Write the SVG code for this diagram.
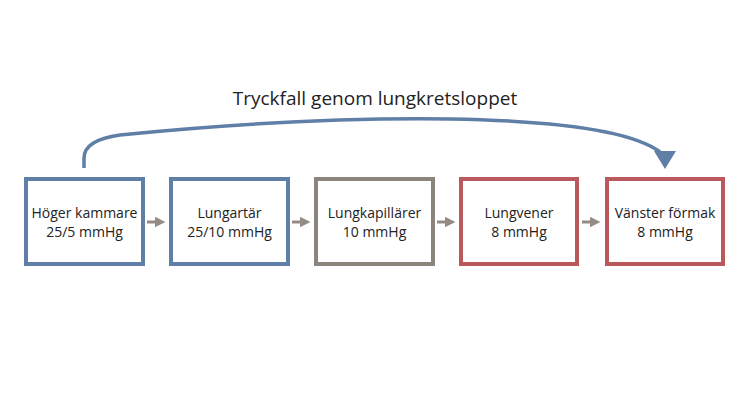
<svg xmlns="http://www.w3.org/2000/svg" width="750" height="409" viewBox="0 0 750 409">
<style>
.box{fill:#fff;stroke-width:4}
.b{stroke:#5f7fa6}.g{stroke:#8c857c}.r{stroke:#b9585d}
text{font-family:"Open Sans","Noto Sans",sans-serif;font-size:14px;fill:#222;text-anchor:middle}
.ar{stroke:#948c84;stroke-width:3;fill:none}
</style>
<defs>
<marker id="ah" viewBox="0 0 10 10" refX="5" refY="5" markerWidth="3.6" markerHeight="3.6" orient="auto"><path d="M0,0L10,5L0,10z" fill="#948c84"/></marker>
</defs>
<rect width="750" height="409" fill="#fff"/>
<text x="375" y="105" style="font-size:19px">Tryckfall genom lungkretsloppet</text>
<g id="n1"><rect class="box b" x="26" y="179" width="117" height="85"/><text x="84.5" y="218">Höger kammare</text><text x="84.5" y="237">25/5 mmHg</text></g>
<g id="n2"><rect class="box b" x="171" y="179" width="117" height="85"/><text x="229.5" y="218">Lungartär</text><text x="229.5" y="237">25/10 mmHg</text></g>
<g id="n3"><rect class="box g" x="316" y="179" width="117" height="85"/><text x="374.5" y="218">Lungkapillärer</text><text x="374.5" y="237">10 mmHg</text></g>
<g id="n4"><rect class="box r" x="461" y="179" width="116" height="85"/><text x="519" y="218">Lungvener</text><text x="519" y="237">8 mmHg</text></g>
<g id="n5"><rect class="box r" x="607" y="179" width="116" height="85"/><text x="665" y="218">Vänster förmak</text><text x="665" y="237">8 mmHg</text></g>
<g id="connectors">
<line class="ar" x1="147" y1="222" x2="160" y2="222" marker-end="url(#ah)"/>
<line class="ar" x1="292" y1="222" x2="305" y2="222" marker-end="url(#ah)"/>
<line class="ar" x1="437" y1="222" x2="450" y2="222" marker-end="url(#ah)"/>
<line class="ar" x1="582" y1="222" x2="595" y2="222" marker-end="url(#ah)"/>
<path d="M84,168 V158 Q84,140 120,135 Q300,117 450,119 Q620,122 660,152" fill="none" stroke="#5f7fa6" stroke-width="3.5"/>
<path d="M654,151 L676,151 L665,169 Z" fill="#5f7fa6"/>
</g>
</svg>
